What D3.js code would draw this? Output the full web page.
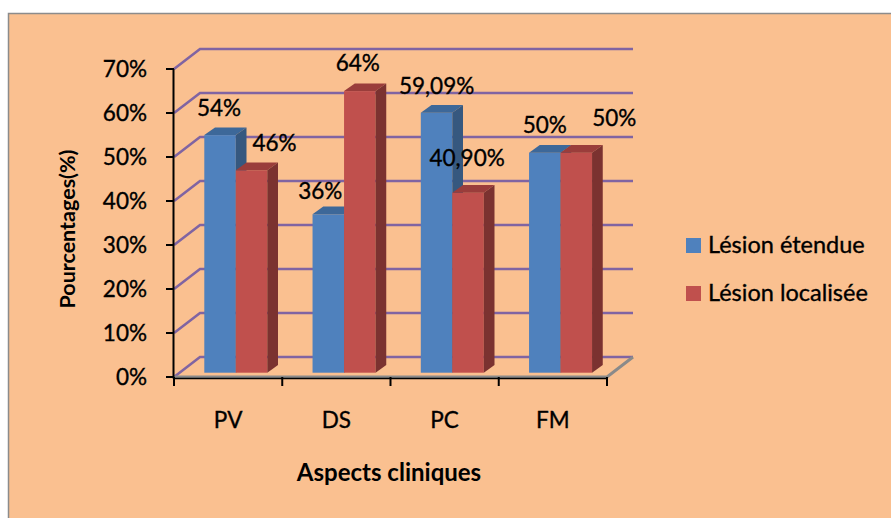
<!DOCTYPE html>
<html>
<head>
<meta charset="utf-8">
<script src="https://cdn.jsdelivr.net/npm/d3@7/dist/d3.min.js"></script>
<style>
  html, body { margin: 0; padding: 0; background: #ffffff; }
  svg { display: block; font-family: Lato, "Open Sans", sans-serif; }
</style>
</head>
<body>
<svg id="chart" width="891" height="518"></svg>
<script>
// Clinical aspects: share of extended vs. localised lesions (%)
const categories = ["PV", "DS", "PC", "FM"];
const seriesNames = ["Lésion étendue", "Lésion localisée"];
const lesionEtendue = [54, 36, 59.09, 50];
const lesionLocalisee = [46, 64, 40.90, 50];
const yTicks = [0, 10, 20, 30, 40, 50, 60, 70];

const colors = {
  "Lésion étendue":   { front: "#4F81BD", top: "#3D6899", side: "#36587F" },
  "Lésion localisée": { front: "#C0504D", top: "#9A3D3B", side: "#7B3230" }
};

// value label nudges (center offset from the top-front-center of each bar)
const labelNudge = {
  "Lésion étendue":   [[-1, -27], [-8, -23], [0, -27], [0, -28]],
  "Lésion localisée": [[23, -27], [-2, -28], [-1, -35], [38, -35]]
};

const fmt = v => (Number.isInteger(v) ? v : v.toFixed(2).replace(".", ",")) + "%";

const svg = d3.select("#chart");
const ink = sel => sel.attr("fill", "#000").attr("stroke", "#000").attr("stroke-width", 0.35);

// chart area background and frame
svg.append("rect")
  .attr("x", 8.5).attr("y", 13.5)
  .attr("width", 900).attr("height", 520)
  .attr("fill", "#FAC090")
  .attr("stroke", "#8C8C8C").attr("stroke-width", 1.5);

// 3D geometry: front plane scales + oblique depth offset for the back wall
const x = d3.scaleBand().domain(categories).range([174, 607]);
const y = d3.scaleLinear().domain([0, 70]).range([377, 69]);
const wall = { dx: 26, dy: -20 };          // depth of the back wall
const barPlane = { dx: 5.6, dy: -4.3 };    // front face of the bars
const barDepth = { dx: 10.7, dy: -7.7 };   // thickness of each bar
const xs = d3.scaleBand().domain(seriesNames).range([24.7, 24.7 + 63]);

const grid = svg.append("g");
const gridColor = "#8064A2";

// gridlines: side wall diagonal + back wall horizontal
yTicks.forEach(t => {
  const yy = y(t);
  grid.append("path")
    .attr("d", d3.line()([
      [x.range()[0], yy],
      [x.range()[0] + wall.dx, yy + wall.dy],
      [x.range()[1] + wall.dx, yy + wall.dy]
    ]))
    .attr("fill", "none")
    .attr("stroke", gridColor)
    .attr("stroke-width", 2.6);
});

// floor front and right edges
svg.append("path")
  .attr("d", d3.line()([
    [x.range()[0], y(0)],
    [x.range()[1], y(0)],
    [x.range()[1] + wall.dx, y(0) + wall.dy]
  ]))
  .attr("fill", "none")
  .attr("stroke", "#8A8A8A")
  .attr("stroke-width", 3);

// value axis
const yAxis = svg.append("g");
yAxis.append("line")
  .attr("x1", 173.5).attr("x2", 173.5)
  .attr("y1", y(70)).attr("y2", y(0) + 1.5)
  .attr("stroke", "#000").attr("stroke-width", 2);
yTicks.forEach(t => {
  yAxis.append("line")
    .attr("x1", 166).attr("x2", 174)
    .attr("y1", y(t)).attr("y2", y(t))
    .attr("stroke", "#000").attr("stroke-width", 2);
  yAxis.append("text")
    .attr("x", 147).attr("y", y(t))
    .attr("dy", "0.36em")
    .attr("text-anchor", "end")
    .attr("font-size", 22.5)
    .call(ink)
    .text(t + "%");
});

// category axis
const xAxis = svg.append("g");
xAxis.append("line")
  .attr("x1", 173).attr("x2", 608)
  .attr("y1", y(0) + 1.5).attr("y2", y(0) + 1.5)
  .attr("stroke", "#000").attr("stroke-width", 1.5);
const bounds = categories.map(c => x(c)).concat([x.range()[1]]);
bounds.forEach(b => {
  xAxis.append("line")
    .attr("x1", b).attr("x2", b)
    .attr("y1", y(0)).attr("y2", y(0) + 9)
    .attr("stroke", "#000").attr("stroke-width", 2);
});
categories.forEach(c => {
  xAxis.append("text")
    .attr("x", x(c) + x.bandwidth() / 2)
    .attr("y", 428)
    .attr("text-anchor", "middle")
    .attr("font-size", 22.5)
    .call(ink)
    .text(c);
});

// bars
const rows = [];
categories.forEach((c, i) => {
  rows.push({ cat: c, i, s: seriesNames[0], v: lesionEtendue[i] });
  rows.push({ cat: c, i, s: seriesNames[1], v: lesionLocalisee[i] });
});

const bars = svg.append("g");
rows.forEach(d => {
  const x0 = x(d.cat) + barPlane.dx + xs(d.s);
  const x1 = x0 + xs.bandwidth();
  const yt = y(d.v) + barPlane.dy;
  const yb = y(0) + barPlane.dy;
  const c = colors[d.s];
  const g = bars.append("g");
  g.append("rect")
    .attr("x", x0).attr("y", yt)
    .attr("width", x1 - x0).attr("height", yb - yt)
    .attr("fill", c.front);
  g.append("path")
    .attr("d", d3.line()([
      [x0, yt], [x1, yt], [x1 + barDepth.dx, yt + barDepth.dy], [x0 + barDepth.dx, yt + barDepth.dy]
    ]) + "Z")
    .attr("fill", c.top);
  g.append("path")
    .attr("d", d3.line()([
      [x1, yt], [x1 + barDepth.dx, yt + barDepth.dy], [x1 + barDepth.dx, yb + barDepth.dy], [x1, yb]
    ]) + "Z")
    .attr("fill", c.side);
  d.cx = (x0 + x1) / 2;
  d.yt = yt;
});

// value labels
const labels = svg.append("g");
rows.forEach(d => {
  const n = labelNudge[d.s][d.i];
  labels.append("text")
    .attr("x", d.cx + n[0])
    .attr("y", d.yt + n[1])
    .attr("dy", "0.36em")
    .attr("text-anchor", "middle")
    .attr("font-size", 22.5)
    .call(ink)
    .text(fmt(d.v));
});

// axis titles
svg.append("text")
  .attr("transform", "translate(67,229) rotate(-90)")
  .attr("dy", "0.36em")
  .attr("text-anchor", "middle")
  .attr("font-size", 21.5)
  .attr("font-weight", "bold")
  .attr("fill", "#000")
  .text("Pourcentages(%)");

svg.append("text")
  .attr("x", 389).attr("y", 481)
  .attr("text-anchor", "middle")
  .attr("font-size", 24)
  .attr("font-weight", "bold")
  .attr("fill", "#000")
  .text("Aspects cliniques");

// legend
const legend = svg.append("g");
seriesNames.forEach((s, i) => {
  const ly = 238 + i * 48;
  legend.append("rect")
    .attr("x", 686).attr("y", ly)
    .attr("width", 15).attr("height", 15)
    .attr("fill", colors[s].front);
  legend.append("text")
    .attr("x", 708).attr("y", ly + 15)
    .attr("font-size", 23.5)
    .call(ink)
    .text(s);
});
</script>
</body>
</html>
